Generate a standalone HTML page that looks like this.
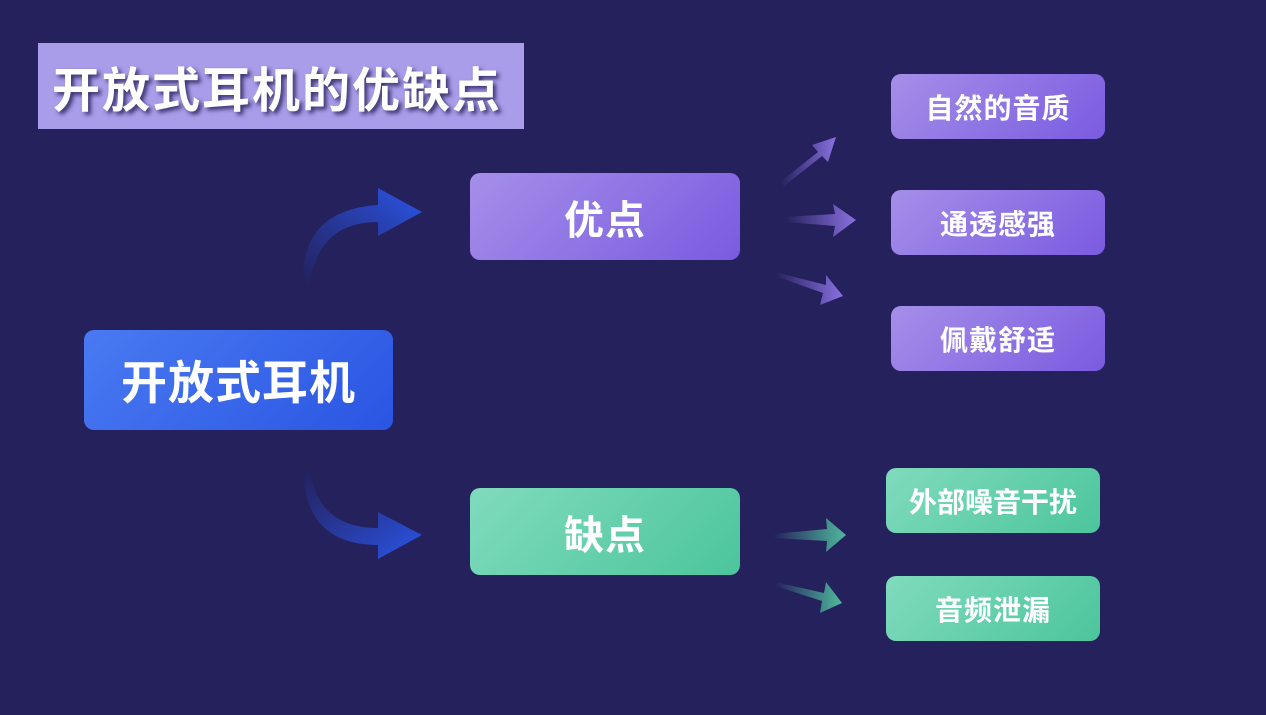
<!DOCTYPE html>
<html><head><meta charset="utf-8"><style>
html,body{margin:0;padding:0}
body{width:1266px;height:715px;background:#24215c;position:relative;overflow:hidden;font-family:"Liberation Sans","Noto Sans CJK SC",sans-serif;font-weight:bold;color:#fff}
.b{position:absolute;display:flex;align-items:center;justify-content:center;border-radius:10px;letter-spacing:1px}
.title{position:absolute;left:38px;top:43px;width:486px;height:86px;background:#a99ce9;display:flex;align-items:center;padding-left:14px;box-sizing:border-box;font-size:48px;letter-spacing:2px;text-shadow:3px 3px 4px #3a3470;white-space:nowrap}
.p{background:linear-gradient(135deg,#a58fe9,#7a5be0);font-size:28px}
.g{background:linear-gradient(135deg,#80dbbc,#4cc59c);font-size:28px}
svg{position:absolute;left:0;top:0}
</style></head><body>
<div class="title">开放式耳机的优缺点</div>
<div class="b" style="left:84px;top:330px;width:309px;height:100px;background:linear-gradient(135deg,#4a7af2,#2a55e2);font-size:46px">开放式耳机</div>
<div class="b p" style="left:470px;top:173px;width:270px;height:87px;font-size:40px">优点</div>
<div class="b g" style="left:470px;top:488px;width:270px;height:87px;font-size:40px">缺点</div>
<div class="b p" style="left:891px;top:74px;width:214px;height:65px">自然的音质</div>
<div class="b p" style="left:891px;top:190px;width:214px;height:65px">通透感强</div>
<div class="b p" style="left:891px;top:306px;width:214px;height:65px">佩戴舒适</div>
<div class="b g" style="left:886px;top:468px;width:214px;height:65px;letter-spacing:0">外部噪音干扰</div>
<div class="b g" style="left:886px;top:576px;width:214px;height:65px">音频泄漏</div>
<svg width="1266" height="715">
<defs>
<linearGradient id="bl" x1="0" y1="1" x2="1" y2="0"><stop offset="0" stop-color="#2a4fd8" stop-opacity="0"/><stop offset="1" stop-color="#2a55e8"/></linearGradient>
<linearGradient id="bl2" x1="0" y1="0" x2="1" y2="1"><stop offset="0" stop-color="#2a4fd8" stop-opacity="0"/><stop offset="1" stop-color="#2a55e8"/></linearGradient>
<linearGradient id="pp" x1="0" y1="0" x2="1" y2="0"><stop offset="0" stop-color="#8a70e0" stop-opacity="0"/><stop offset="1" stop-color="#8a70e0"/></linearGradient>
<linearGradient id="gg" x1="0" y1="0" x2="1" y2="0"><stop offset="0" stop-color="#50b89c" stop-opacity="0"/><stop offset="1" stop-color="#50b89c"/></linearGradient>
</defs>
<path d="M303 285 Q300 210 378 205 L378 188 L422 212 L378 236 L378 222 Q318 222 310 285 Z" fill="url(#bl)"/>
<path d="M303 470 Q305 545 378 545 L378 559 L422 535 L378 512 L378 528 Q318 528 310 470 Z" fill="url(#bl2)"/>
<path d="M780 182 L818 152 L812 145 L836 137 L828 162 L822 156 L784 186 Z" fill="url(#pp)"/>
<path d="M785 217 L835 214 L833 204 L856 220 L833 237 L835 226 L785 222 Z" fill="url(#pp)"/>
<path d="M775 272 L826 285 L826 275 L843 296 L820 305 L823 293 L775 276 Z" fill="url(#pp)"/>
<path d="M773 534 L827 529 L826 518 L846 535 L826 552 L827 541 L773 538 Z" fill="url(#gg)"/>
<path d="M775 582 L824 593 L826 582 L842 603 L820 613 L822 601 L775 586 Z" fill="url(#gg)"/>
</svg>
</body></html>
